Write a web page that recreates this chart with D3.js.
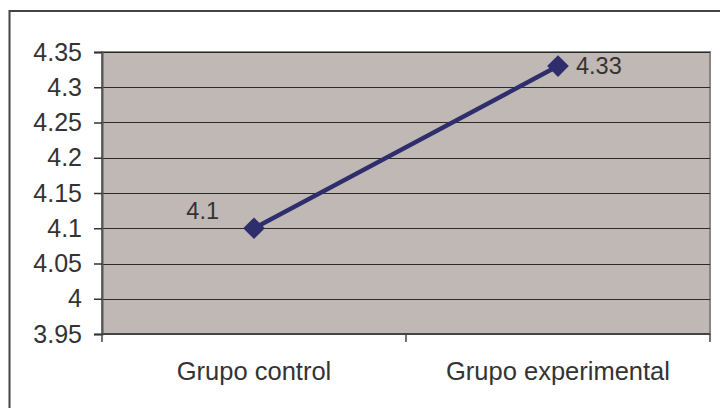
<!DOCTYPE html>
<html>
<head>
<meta charset="utf-8">
<script src="https://cdn.jsdelivr.net/npm/d3@7"></script>
<style>
  html, body { margin: 0; padding: 0; background: #fff; }
  svg { display: block; }
  text { font-family: "Liberation Sans", Arial, sans-serif; fill: #333; }
</style>
</head>
<body>
<svg id="chart" width="720" height="408"></svg>
<script>
// Mean scores per group
const categories = ["Grupo control", "Grupo experimental"];
const values = [4.1, 4.33];
const yTicks = [3.95, 4, 4.05, 4.1, 4.15, 4.2, 4.25, 4.3, 4.35];

const plot = { left: 102, right: 710, top: 52, bottom: 334 };

const svg = d3.select("#chart");

// Outer chart frame (runs off the right and bottom edges)
svg.append("rect")
  .attr("x", 9.5).attr("y", 11)
  .attr("width", 740).attr("height", 420)
  .attr("fill", "#fff")
  .attr("stroke", "#444").attr("stroke-width", 2);

const x = d3.scaleBand()
  .domain(categories)
  .range([plot.left, plot.right]);

const y = d3.scaleLinear()
  .domain([3.95, 4.35])
  .range([plot.bottom, plot.top]);

// Plot area
svg.append("rect")
  .attr("x", plot.left).attr("y", plot.top)
  .attr("width", plot.right - plot.left)
  .attr("height", plot.bottom - plot.top)
  .attr("fill", "#c0b8b5")
  .attr("stroke", "#8c8282").attr("stroke-width", 2);

// Horizontal gridlines
svg.append("g")
  .selectAll("line")
  .data(yTicks.slice(1))
  .join("line")
  .attr("x1", plot.left).attr("x2", plot.right)
  .attr("y1", d => Math.round(y(d)) + 0.5)
  .attr("y2", d => Math.round(y(d)) + 0.5)
  .attr("stroke", "#2a2a2a").attr("stroke-width", 1.2);

// Y axis
const yAxis = svg.append("g")
  .attr("transform", `translate(${plot.left},0)`)
  .call(d3.axisLeft(y).tickValues(yTicks).tickFormat(d => String(+d.toFixed(2)))
    .tickSize(8).tickPadding(12));
yAxis.attr("font-size", null).attr("font-family", null);
yAxis.select(".domain").attr("stroke", "#555").attr("stroke-width", 2);
yAxis.selectAll(".tick line").attr("stroke", "#333").attr("stroke-width", 1.5);
yAxis.selectAll(".tick text")
  .style("font-size", "25px")
  .style("font-family", "'Liberation Sans', Arial, sans-serif")
  .attr("fill", "#333");

// X axis: ticks at category boundaries
const xAxisG = svg.append("g")
  .attr("transform", `translate(0,${plot.bottom})`);
xAxisG.append("line")
  .attr("x1", plot.left).attr("x2", plot.right)
  .attr("y1", 0).attr("y2", 0)
  .attr("stroke", "#444").attr("stroke-width", 2);
const boundaries = [plot.left, ...categories.map(c => x(c) + x.bandwidth())];
xAxisG.selectAll("line.tk")
  .data(boundaries)
  .join("line")
  .attr("class", "tk")
  .attr("x1", d => d).attr("x2", d => d)
  .attr("y1", 0).attr("y2", 8)
  .attr("stroke", "#444").attr("stroke-width", 1.5);
xAxisG.selectAll("text")
  .data(categories)
  .join("text")
  .attr("x", d => x(d) + x.bandwidth() / 2)
  .attr("y", 46)
  .attr("text-anchor", "middle")
  .style("font-size", "25.5px")
  .text(d => d);

// Series line
const pts = categories.map((c, i) => [x(c) + x.bandwidth() / 2, y(values[i])]);
svg.append("path")
  .attr("d", d3.line()(pts))
  .attr("fill", "none")
  .attr("stroke", "#2e2e6c")
  .attr("stroke-width", 4.5);

// Diamond markers
svg.selectAll("path.mk")
  .data(pts)
  .join("path")
  .attr("class", "mk")
  .attr("d", d3.symbol().type(d3.symbolDiamond2).size(300))
  .attr("transform", d => `translate(${d[0]},${d[1]})`)
  .attr("fill", "#2e2e6c");

// Data labels
svg.append("text")
  .attr("x", pts[0][0] - 35).attr("y", pts[0][1] - 9)
  .attr("text-anchor", "end")
  .style("font-size", "23.5px")
  .text(values[0]);
svg.append("text")
  .attr("x", pts[1][0] + 18).attr("y", pts[1][1] + 8)
  .attr("text-anchor", "start")
  .style("font-size", "23.5px")
  .text(values[1]);
</script>
</body>
</html>
